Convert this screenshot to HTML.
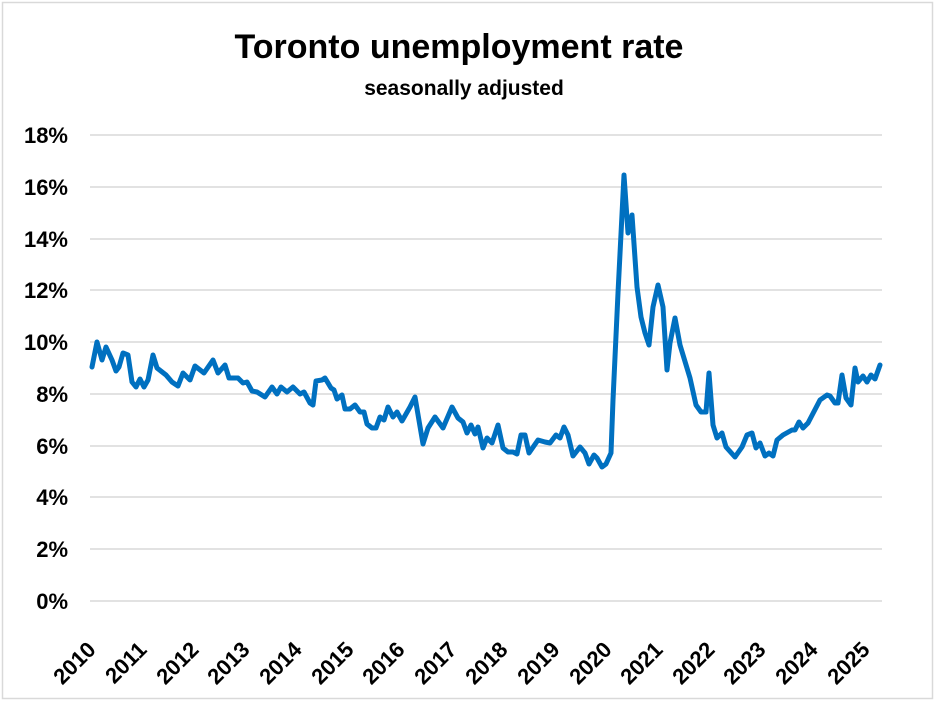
<!DOCTYPE html>
<html><head><meta charset="utf-8"><style>body{margin:0;background:#fff}</style></head><body>
<svg width="936" height="702" xmlns="http://www.w3.org/2000/svg" font-family="Liberation Sans, sans-serif">
<rect x="2.5" y="2.5" width="930" height="696" fill="#fff" stroke="#d9d9d9" stroke-width="1.5"/>
<text x="459" y="58" text-anchor="middle" font-size="34" font-weight="bold">Toronto unemployment rate</text>
<text x="464" y="95" text-anchor="middle" font-size="21" font-weight="bold">seasonally adjusted</text>
<g stroke="#d9d9d9" stroke-width="1.5">
<line x1="90" x2="882" y1="135" y2="135"/><line x1="90" x2="882" y1="187" y2="187"/><line x1="90" x2="882" y1="239" y2="239"/><line x1="90" x2="882" y1="290" y2="290"/><line x1="90" x2="882" y1="342" y2="342"/><line x1="90" x2="882" y1="394" y2="394"/><line x1="90" x2="882" y1="446" y2="446"/><line x1="90" x2="882" y1="497" y2="497"/><line x1="90" x2="882" y1="549" y2="549"/><line x1="90" x2="882" y1="601" y2="601"/>
</g>
<g font-size="22" font-weight="bold" text-anchor="end">
<text x="68" y="143">18%</text><text x="68" y="195">16%</text><text x="68" y="247">14%</text><text x="68" y="298">12%</text><text x="68" y="350">10%</text><text x="68" y="402">8%</text><text x="68" y="454">6%</text><text x="68" y="505">4%</text><text x="68" y="557">2%</text><text x="68" y="609">0%</text>
</g>
<g font-size="22" font-weight="bold" text-anchor="end">
<text transform="translate(97,651) rotate(-45)">2010</text><text transform="translate(148,651) rotate(-45)">2011</text><text transform="translate(200,651) rotate(-45)">2012</text><text transform="translate(251,651) rotate(-45)">2013</text><text transform="translate(303,651) rotate(-45)">2014</text><text transform="translate(355,651) rotate(-45)">2015</text><text transform="translate(406,651) rotate(-45)">2016</text><text transform="translate(458,651) rotate(-45)">2017</text><text transform="translate(509,651) rotate(-45)">2018</text><text transform="translate(561,651) rotate(-45)">2019</text><text transform="translate(613,651) rotate(-45)">2020</text><text transform="translate(664,651) rotate(-45)">2021</text><text transform="translate(716,651) rotate(-45)">2022</text><text transform="translate(767,651) rotate(-45)">2023</text><text transform="translate(819,651) rotate(-45)">2024</text><text transform="translate(871,651) rotate(-45)">2025</text>
</g>
<polyline fill="none" stroke="#0070C0" stroke-width="5" stroke-linejoin="round" stroke-linecap="round" points="92,367 97,342 102,360 106,347 112,360 116,371 119,367 123,353 128,355 132,382 136,387 140,379 144,387 148,380 153,355 157,368 166,375 172,382 178,386 183,373 190,380 195,366 204,373 213,360 218,373 225,365 229,378 238,378 243,383 247,382 252,391 257,392 265,397 272,387 277,394 281,387 287,392 293,387 300,394 304,392 310,403 313,405 316,381 322,380 325,378 331,388 334,390 337,399 342,395 345,409 350,409 355,405 360,412 364,412 367,424 372,428 376,428 380,417 384,420 388,407 393,417 397,412 402,421 410,407 415,397 423,444 428,428 435,417 443,428 452,407 458,418 463,422 467,433 471,425 475,434 478,427 483,448 487,438 492,443 498,425 503,448 508,452 513,452 517,454 521,435 525,435 529,453 538,440 545,442 550,443 556,435 560,438 564,427 568,435 573,456 580,447 585,453 589,464 594,455 597,458 602,467 606,464 611,453 613,400 618,293 624,175 628,233 632,215 637,287 641,317 645,333 649,345 653,307 658,285 663,307 667,370 670,343 675,318 680,345 690,378 696,405 701,412 706,412 709,373 713,425 717,438 722,433 726,447 735,457 742,447 747,435 752,433 756,448 760,443 765,456 769,453 773,456 777,440 783,435 792,430 795,430 799,422 803,428 808,423 820,400 827,395 830,396 835,403 838,403 842,375 846,398 851,405 855,368 858,382 863,376 867,382 871,375 875,379 880,365"/>
</svg>
</body></html>
